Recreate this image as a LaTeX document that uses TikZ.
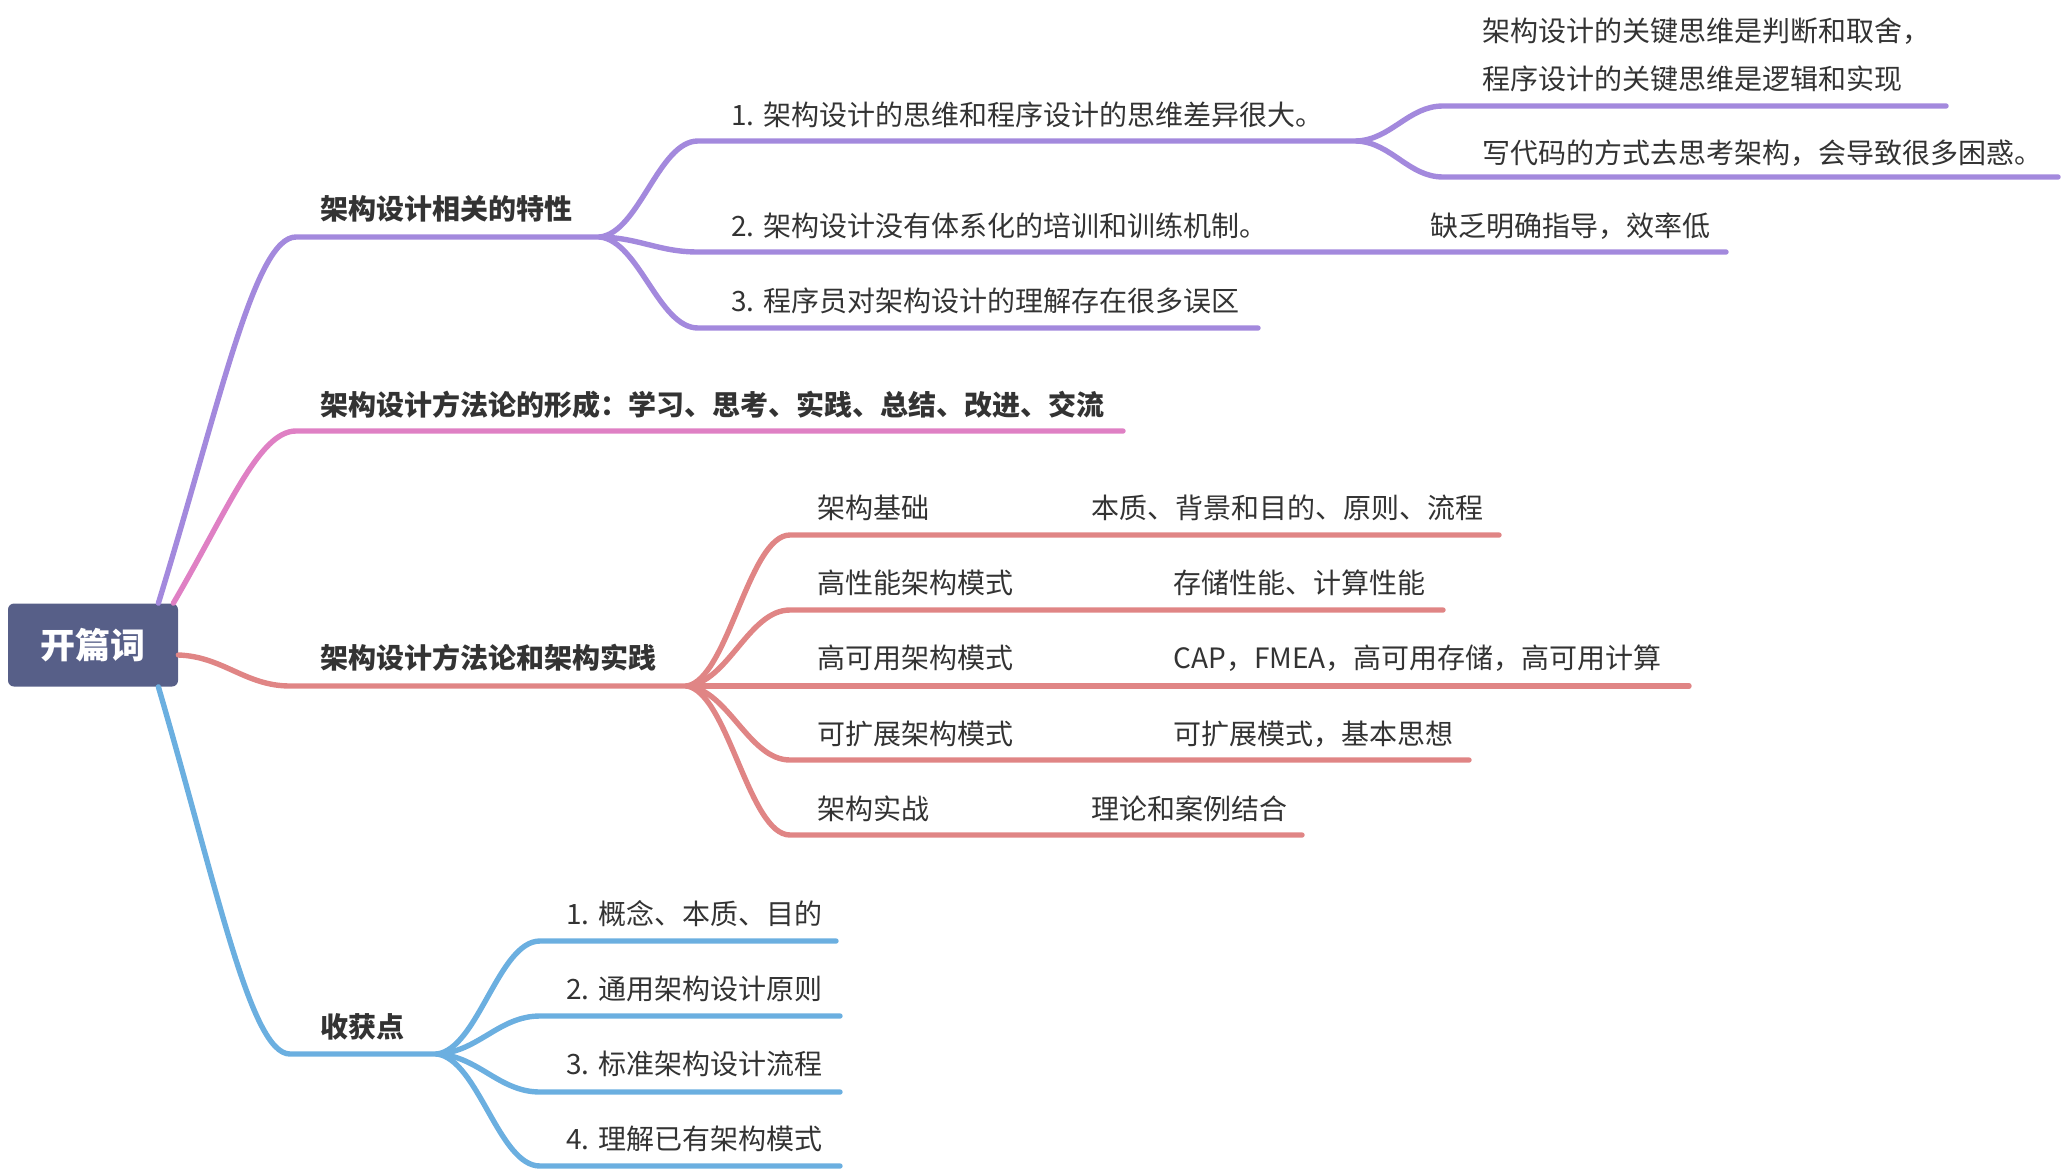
\documentclass[tikz,border=0pt]{standalone}
\usepackage{fontspec}
\setmainfont{Noto Sans CJK SC}
\usepackage{tikz}
\usetikzlibrary{calc}

\definecolor{rootfill}{HTML}{575F88}
\definecolor{purplebr}{HTML}{A389DD}
\definecolor{pinkbr}{HTML}{DF80C4}
\definecolor{redbr}{HTML}{E08585}
\definecolor{bluebr}{HTML}{6BAFE0}
\definecolor{txt}{HTML}{333333}

\tikzset{
  rootbranch/.style={to path={let \p1=(\tikztostart), \p2=(\tikztotarget) in
    .. controls ({\x1+0.45*(\x2-\x1)},{\y1+0.55*(\y2-\y1)}) and ({\x2-0.3*(\x2-\x1)},\y2) .. (\tikztotarget) \tikztonodes}},
  branch/.style={to path={let \p1=(\tikztostart), \p2=(\tikztotarget) in
    .. controls ({\x1+0.4*(\x2-\x1)},{\y1+0.05*(\y2-\y1)}) and ({\x2-0.4*(\x2-\x1)},\y2) .. (\tikztotarget) \tikztonodes}},
  topic/.style={anchor=base west, inner sep=0pt, text=txt, font=\fontsize{14}{24}\selectfont},
  mainlabel/.style={topic, font=\fontsize{14}{24}\selectfont\bfseries},
  purpleline/.style={draw=purplebr, line width=2.7pt, line cap=round},
  pinkline/.style={draw=pinkbr, line width=2.7pt, line cap=round},
  redline/.style={draw=redbr, line width=2.7pt, line cap=round},
  blueline/.style={draw=bluebr, line width=2.7pt, line cap=round}
}

\begin{document}
\begin{tikzpicture}[x=0.5pt, y=-0.5pt]
  \useasboundingbox (0,0) rectangle (2066,1172);

  % root
  \node[fill=rootfill, rounded corners=3pt, minimum width=85pt, minimum height=41.5pt,
        text=white, font=\fontsize{17.5}{20}\selectfont\bfseries] (root) at (93,645) {开篇词};

  % architecture features (purple)
  \coordinate (fork1) at (600,237);
  \coordinate (fork2) at (1357,141);
  \draw[purpleline] ($(root.north east)+(-20,0)$) to[rootbranch] (296,237) -- (fork1);
  \draw[purpleline] (fork1) to[branch] (698,141) -- (fork2);
  \draw[purpleline] (fork1) to[branch] (698,252) -- (1726,252);
  \draw[purpleline] (fork1) to[branch] (698,328) -- (1258,328);
  \draw[purpleline] (fork2) to[branch] (1443,106) -- (1946,106);
  \draw[purpleline] (fork2) to[branch] (1443,177) -- (2058,177);

  \node[mainlabel] (feat) at (320,219) {架构设计相关的特性};
  \node[topic] (feat1) at (731,126) {1. 架构设计的思维和程序设计的思维差异很大。};
  \node[topic] (feat2) at (731,236) {2. 架构设计没有体系化的培训和训练机制。};
  \node[topic] (feat2a) at (1430,236) {缺乏明确指导，效率低};
  \node[topic] (feat3) at (731,311) {3. 程序员对架构设计的理解存在很多误区};
  \node[topic, anchor=west, align=left] (feat1a) at (1482,55) {架构设计的关键思维是判断和取舍，\\程序设计的关键思维是逻辑和实现};
  \node[topic] (feat1b) at (1482,163) {写代码的方式去思考架构，会导致很多困惑。};

  % methodology (pink)
  \draw[pinkline] ($(root.north east)+(-5,0)$) to[rootbranch] (296,431) -- (1123,431);
  \node[mainlabel] (method) at (320,415) {架构设计方法论的形成：学习、思考、实践、总结、改进、交流};

  % practice (red)
  \coordinate (fork3) at (687,686);
  \draw[redline] ($(root.east)+(0,10)$) to[branch] (290,686) -- (fork3);
  \draw[redline] (fork3) to[branch] (790,535) -- (1499,535);
  \draw[redline] (fork3) to[branch] (790,610) -- (1443,610);
  \draw[redline] (fork3) -- (1689,686);
  \draw[redline] (fork3) to[branch] (790,760) -- (1469,760);
  \draw[redline] (fork3) to[branch] (790,835) -- (1302,835);

  \node[mainlabel] (prac) at (320,668) {架构设计方法论和架构实践};
  \node[topic] (prac1) at (817,518) {架构基础};
  \node[topic] (prac1a) at (1091,518) {本质、背景和目的、原则、流程};
  \node[topic] (prac2) at (817,593) {高性能架构模式};
  \node[topic] (prac2a) at (1173,593) {存储性能、计算性能};
  \node[topic] (prac3) at (817,668) {高可用架构模式};
  \node[topic] (prac3a) at (1173,668) {CAP，FMEA，高可用存储，高可用计算};
  \node[topic] (prac4) at (817,744) {可扩展架构模式};
  \node[topic] (prac4a) at (1173,744) {可扩展模式，基本思想};
  \node[topic] (prac5) at (817,819) {架构实战};
  \node[topic] (prac5a) at (1091,819) {理论和案例结合};

  % gains (blue)
  \coordinate (fork4) at (437,1054);
  \draw[blueline] ($(root.south east)+(-20,0)$) to[rootbranch] (290,1054) -- (fork4);
  \draw[blueline] (fork4) to[branch] (540,941) -- (836,941);
  \draw[blueline] (fork4) to[branch] (540,1016) -- (840,1016);
  \draw[blueline] (fork4) to[branch] (540,1092) -- (840,1092);
  \draw[blueline] (fork4) to[branch] (540,1166) -- (840,1166);

  \node[mainlabel] (gain) at (320,1037) {收获点};
  \node[topic] (gain1) at (566,924) {1. 概念、本质、目的};
  \node[topic] (gain2) at (566,999) {2. 通用架构设计原则};
  \node[topic] (gain3) at (566,1074) {3. 标准架构设计流程};
  \node[topic] (gain4) at (566,1149) {4. 理解已有架构模式};
\end{tikzpicture}
\end{document}
